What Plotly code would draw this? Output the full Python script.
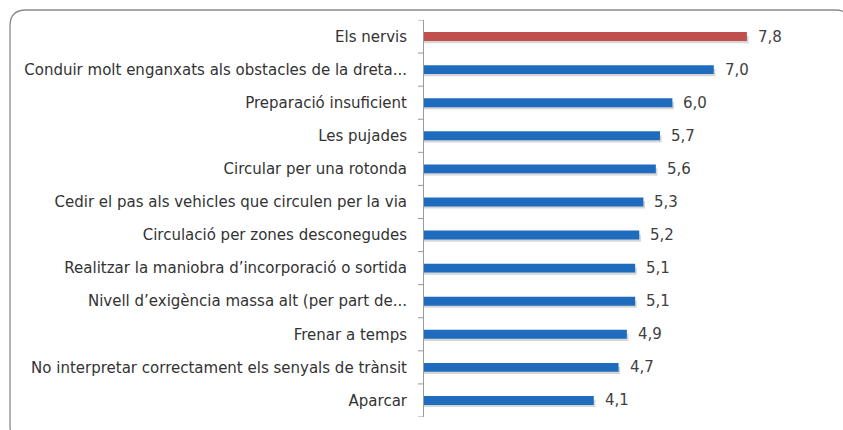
import plotly.graph_objects as go

categories = [
    "Els nervis",
    "Conduir molt enganxats als obstacles de la dreta...",
    "Preparació insuficient",
    "Les pujades",
    "Circular per una rotonda",
    "Cedir el pas als vehicles que circulen per la via",
    "Circulació per zones desconegudes",
    "Realitzar la maniobra d’incorporació o sortida",
    "Nivell d’exigència massa alt (per part de...",
    "Frenar a temps",
    "No interpretar correctament els senyals de trànsit",
    "Aparcar",
]
values = [7.8, 7.0, 6.0, 5.7, 5.6, 5.3, 5.2, 5.1, 5.1, 4.9, 4.7, 4.1]
value_labels = ["7,8", "7,0", "6,0", "5,7", "5,6", "5,3", "5,2", "5,1", "5,1", "4,9", "4,7", "4,1"]
highlight = "Els nervis"

RED = "#C0504D"
BLUE = "#1F6CBE"
FONT = "DejaVu Sans, Verdana, sans-serif"

n = len(categories)
ypos = [n - 1 - i for i in range(n)]
colors = [RED if c == highlight else BLUE for c in categories]

fig = go.Figure()
fig.add_trace(go.Bar(
    x=[v + 0.04 for v in values], y=[p - 0.09 for p in ypos], orientation="h",
    width=0.22, marker=dict(color="rgba(0,0,0,0.16)", line=dict(width=0)),
    hoverinfo="skip", showlegend=False,
))
fig.add_trace(go.Bar(
    x=values, y=ypos, orientation="h", width=0.27,
    marker=dict(color=colors, line=dict(width=0)),
    showlegend=False,
))
fig.update_layout(barmode="overlay")

for v, p, t in zip(values, ypos, value_labels):
    fig.add_annotation(x=v, y=p, text=t, showarrow=False, xanchor="left",
                       xshift=9, font=dict(family=FONT, size=15, color="#404040"))

L, R, T, B = 424, 5, 20, 13
W, H = 843, 430
pw, ph = W - L - R, H - T - B

def px(x):
    return (x - L) / pw

def py(y):
    return (H - B - y) / ph

x0, x1, y0, y1 = px(10), px(851), py(10), py(442)
rx, ry = 16 / pw, 16 / ph
path = (f"M {x0+rx},{y0} L {x1-rx},{y0} Q {x1},{y0} {x1},{y0-ry} "
        f"L {x1},{y1+ry} Q {x1},{y1} {x1-rx},{y1} L {x0+rx},{y1} "
        f"Q {x0},{y1} {x0},{y1+ry} L {x0},{y0-ry} Q {x0},{y0} {x0+rx},{y0} Z")
fig.add_shape(type="path", path=path, xref="paper", yref="paper",
              line=dict(color="#8a8a8a", width=1.3), layer="below")

fig.update_xaxes(range=[0, 10], visible=False, showgrid=False, zeroline=False)
fig.update_yaxes(
    tickmode="array", tickvals=ypos, ticktext=categories,
    range=[-0.5, n - 0.5], showgrid=False, zeroline=False,
    showline=True, linecolor="#9a9a9a", linewidth=1,
    ticks="", ticklabelstandoff=13,
    tickfont=dict(family=FONT, size=15, color="#333333"),
)
for k in range(n + 1):
    fig.add_shape(type="line", xref="paper", yref="y", x0=-6 / pw, x1=0,
                  y0=k - 0.5, y1=k - 0.5, line=dict(color="#9a9a9a", width=1))

fig.update_layout(
    width=W, height=H,
    margin=dict(l=L, r=R, t=T, b=B, autoexpand=False),
    paper_bgcolor="white", plot_bgcolor="white",
)
fig.write_html("out.html", config={"displayModeBar": False},
               post_script="document.body.style.margin='0';document.body.style.overflow='hidden';")
